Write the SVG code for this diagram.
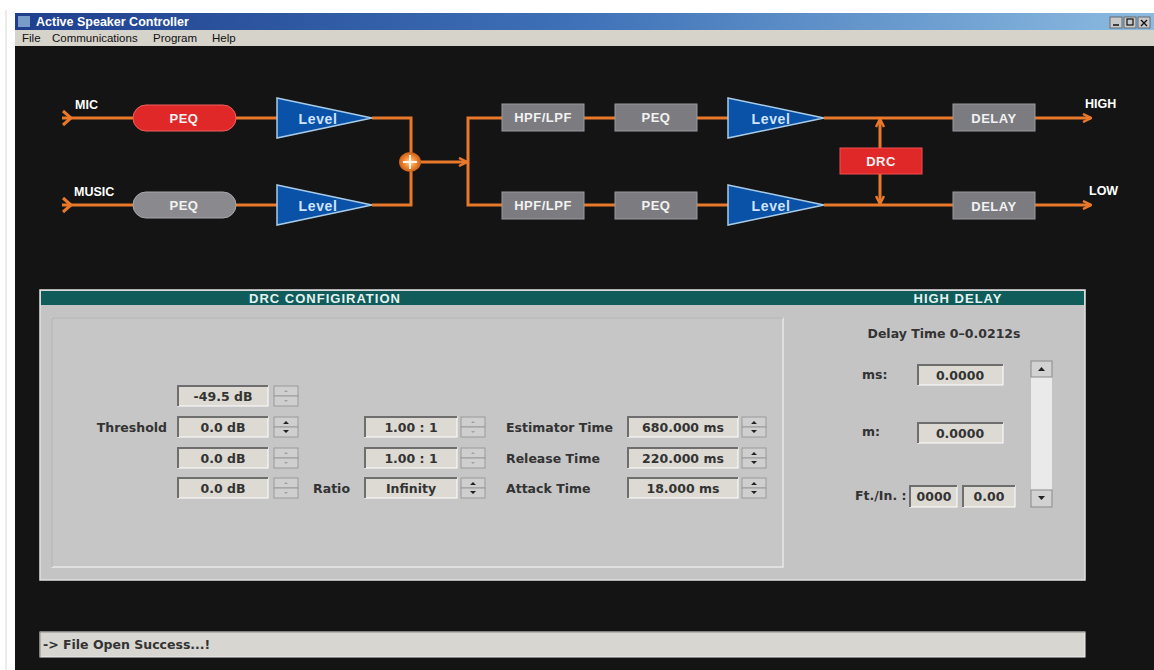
<svg xmlns="http://www.w3.org/2000/svg" width="1154" height="670" viewBox="0 0 1154 670">
<defs>
<linearGradient id="tg" x1="0" y1="0" x2="1" y2="0">
<stop offset="0" stop-color="#1f3f8e"/>
<stop offset="0.5" stop-color="#3f72b8"/>
<stop offset="1" stop-color="#8cbbe0"/>
</linearGradient>
<marker id="ah" viewBox="0 0 10 10" refX="9" refY="5" markerWidth="10" markerHeight="10" markerUnits="userSpaceOnUse" orient="auto">
<path d="M1,1 L9,5 L1,9" fill="none" stroke="#e8782a" stroke-width="2.5"/>
</marker>
<radialGradient id="sg" cx="0.5" cy="0.5" r="0.5">
<stop offset="0" stop-color="#ffd8a8"/>
<stop offset="0.6" stop-color="#f0862e"/>
<stop offset="1" stop-color="#c85e1a"/>
</radialGradient>
</defs>
<style>
.w{stroke:#e8782a;stroke-width:3;fill:none}
.lbl{font-family:"Liberation Sans",Arial,sans-serif;font-weight:bold;fill:#ffffff;font-size:12.5px}
.btxt{font-family:"Liberation Sans",Arial,sans-serif;font-weight:bold;fill:#f2f2f2;font-size:13px;text-anchor:middle;letter-spacing:0.5px}
.lv{font-family:"Liberation Sans",Arial,sans-serif;font-weight:bold;fill:#cfe4ff;font-size:14px;text-anchor:middle;letter-spacing:0.6px}
.gbox{fill:#7c7c80;stroke:#9a9a9e;stroke-width:1}
.tri{fill:#0a52a8;stroke:#a8cce8;stroke-width:1.5}
.ptxt{font-family:"DejaVu Sans",Verdana,sans-serif;font-weight:bold;fill:#333333;font-size:12.5px}
.ftxt{font-family:"DejaVu Sans",Verdana,sans-serif;font-weight:bold;fill:#333333;font-size:12.5px;text-anchor:middle}
.fld{fill:#dcdad2;stroke:#ffffff;stroke-width:1}
.fsh{fill:none;stroke:#6e6e6e;stroke-width:2}
.spb{fill:#cfcfcf;stroke:#9a9a9a;stroke-width:1}
.ttl{font-family:"Liberation Sans",Arial,sans-serif;font-weight:bold;fill:#e6f2f0;font-size:13px;text-anchor:middle;letter-spacing:1px}
.menu{font-family:"Liberation Sans",Arial,sans-serif;fill:#111;font-size:11.5px}
</style>
<rect x="0" y="0" width="1154" height="670" fill="#ffffff"/>
<line x1="6" y1="10" x2="6" y2="670" stroke="#d8d8d8" stroke-width="1"/>
<!-- window chrome -->
<g id="titlebar">
<rect x="15" y="13" width="1139" height="17" fill="url(#tg)"/>
<rect x="18" y="16" width="12" height="11" fill="#7a9cc8"/>
<text x="36" y="26" class="lbl" font-size="13">Active Speaker Controller</text>
<rect x="1110" y="17" width="12" height="11" fill="#c8c8c8" stroke="#555" stroke-width="0.8"/>
<rect x="1124" y="17" width="12" height="11" fill="#c8c8c8" stroke="#555" stroke-width="0.8"/>
<rect x="1138" y="17" width="12" height="11" fill="#c8c8c8" stroke="#555" stroke-width="0.8"/>
<line x1="1113" y1="25" x2="1119" y2="25" stroke="#111" stroke-width="1.5"/>
<rect x="1127" y="19" width="6" height="6" fill="none" stroke="#111" stroke-width="1.2"/>
<path d="M1141,20 L1147,26 M1147,20 L1141,26" stroke="#111" stroke-width="1.4"/>
</g>
<g id="menubar">
<rect x="15" y="30" width="1139" height="16" fill="#d6d3cb"/>
<text x="22" y="42" class="menu">File</text>
<text x="52" y="42" class="menu">Communications</text>
<text x="153" y="42" class="menu">Program</text>
<text x="212" y="42" class="menu">Help</text>
</g>
<rect x="15" y="46" width="1139" height="624" fill="#141414"/>

<!-- connectors -->
<g id="connectors">
<path class="w" d="M62,118 H133"/>
<path class="w" d="M63,111 L71,118 L63,125"/>
<path class="w" d="M62,205 H133"/>
<path class="w" d="M63,198 L71,205 L63,212"/>
<path class="w" d="M236,118 H277"/>
<path class="w" d="M236,205 H277"/>
<path class="w" d="M372,118 H411 V205 H372"/>
<path class="w" d="M420,162 H467" marker-end="url(#ah)"/>
<path class="w" d="M502,118 H468 V205 H502"/>
<path class="w" d="M584,118 H615"/>
<path class="w" d="M584,205 H615"/>
<path class="w" d="M697,118 H728"/>
<path class="w" d="M697,205 H728"/>
<path class="w" d="M824,118 H953"/>
<path class="w" d="M824,205 H953"/>
<path class="w" d="M1035,118 H1091" marker-end="url(#ah)"/>
<path class="w" d="M1035,205 H1091" marker-end="url(#ah)"/>
<path class="w" d="M880,148 V119" marker-end="url(#ah)"/>
<path class="w" d="M880,174 V204" marker-end="url(#ah)"/>
</g>

<g id="sum">
<ellipse cx="410" cy="162" rx="11" ry="10" fill="url(#sg)"/>
<path d="M403,162 H417 M410,155 V169" stroke="#fff4e8" stroke-width="2"/>
</g>

<text x="75" y="109" class="lbl">MIC</text>
<text x="74" y="196" class="lbl">MUSIC</text>
<text x="1085" y="108" class="lbl">HIGH</text>
<text x="1089" y="195" class="lbl">LOW</text>

<g id="peq-mic">
<rect x="133" y="105" width="103" height="26" rx="13" fill="#e02828" stroke="#f06060" stroke-width="1"/>
<text x="184" y="123" class="btxt">PEQ</text>
</g>
<g id="peq-music">
<rect x="133" y="192" width="103" height="26" rx="13" fill="#8a8a8e" stroke="#a8a8ac" stroke-width="1"/>
<text x="184" y="210" class="btxt">PEQ</text>
</g>
<g id="level-mic">
<polygon class="tri" points="277,98 372,118 277,138"/>
<text x="318" y="124" class="lv">Level</text>
</g>
<g id="level-music">
<polygon class="tri" points="277,185 372,205 277,225"/>
<text x="318" y="211" class="lv">Level</text>
</g>
<g id="hpf-high">
<rect class="gbox" x="502" y="104" width="82" height="27"/>
<text x="543" y="122" class="btxt">HPF/LPF</text>
</g>
<g id="hpf-low">
<rect class="gbox" x="502" y="192" width="82" height="27"/>
<text x="543" y="210" class="btxt">HPF/LPF</text>
</g>
<g id="peq-high">
<rect class="gbox" x="615" y="104" width="82" height="27"/>
<text x="656" y="122" class="btxt">PEQ</text>
</g>
<g id="peq-low">
<rect class="gbox" x="615" y="192" width="82" height="27"/>
<text x="656" y="210" class="btxt">PEQ</text>
</g>
<g id="level-high">
<polygon class="tri" points="728,98 824,118 728,138"/>
<text x="771" y="124" class="lv">Level</text>
</g>
<g id="level-low">
<polygon class="tri" points="728,185 824,205 728,225"/>
<text x="771" y="211" class="lv">Level</text>
</g>
<g id="drc">
<rect x="840" y="148" width="82" height="26" fill="#e02828" stroke="#f05050" stroke-width="1"/>
<text x="881" y="166" class="btxt">DRC</text>
</g>
<g id="delay-high">
<rect class="gbox" x="953" y="104" width="82" height="27"/>
<text x="994" y="123" class="btxt" letter-spacing="1.2">DELAY</text>
</g>
<g id="delay-low">
<rect class="gbox" x="953" y="192" width="82" height="27"/>
<text x="994" y="211" class="btxt" letter-spacing="1.2">DELAY</text>
</g>

<!-- configuration panel -->
<g id="panel">
<rect x="40" y="290" width="1045" height="290" fill="#c4c4c4" stroke="#e2e2e2" stroke-width="1.5"/>
<rect x="41" y="291" width="1043" height="14" fill="#0f5c5a"/>
<text x="325" y="303" class="ttl">DRC CONFIGIRATION</text>
<text x="958" y="303" class="ttl">HIGH DELAY</text>
<rect x="52" y="318" width="731" height="249" fill="#c6c6c6" stroke="#e8e8e8" stroke-width="1.5"/>
<path d="M52,567 V318 H783" fill="none" stroke="#9c9c9c" stroke-width="1"/>
</g>

<g id="drc-threshold">
<text x="167" y="432" class="ptxt" text-anchor="end">Threshold</text>
<rect class="fld" x="178" y="386" width="90" height="20"/><path class="fsh" d="M178,406 V386 H268"/><text x="223" y="401" class="ftxt">-49.5 dB</text>
<rect class="fld" x="178" y="417" width="90" height="20"/><path class="fsh" d="M178,437 V417 H268"/><text x="223" y="432" class="ftxt">0.0 dB</text>
<rect class="fld" x="178" y="448" width="90" height="20"/><path class="fsh" d="M178,468 V448 H268"/><text x="223" y="463" class="ftxt">0.0 dB</text>
<rect class="fld" x="178" y="478" width="90" height="20"/><path class="fsh" d="M178,498 V478 H268"/><text x="223" y="493" class="ftxt">0.0 dB</text>
</g>
<g id="drc-threshold-spin">
<rect class="spb" x="274" y="386" width="24" height="10"/><rect class="spb" x="274" y="396" width="24" height="10"/>
<path d="M284,392 h4 l-2,-2z M284,400 h4 l-2,2z" fill="#a0a0a0"/>
<rect class="spb" x="274" y="417" width="24" height="10"/><rect class="spb" x="274" y="427" width="24" height="10"/>
<path d="M283,424 h6 l-3,-3z M283,430 h6 l-3,3z" fill="#222"/>
<rect class="spb" x="274" y="448" width="24" height="10"/><rect class="spb" x="274" y="458" width="24" height="10"/>
<path d="M284,454 h4 l-2,-2z M284,462 h4 l-2,2z" fill="#a0a0a0"/>
<rect class="spb" x="274" y="478" width="24" height="10"/><rect class="spb" x="274" y="488" width="24" height="10"/>
<path d="M284,484 h4 l-2,-2z M284,492 h4 l-2,2z" fill="#a0a0a0"/>
</g>
<g id="drc-ratio">
<text x="350" y="493" class="ptxt" text-anchor="end">Ratio</text>
<rect class="fld" x="365" y="417" width="92" height="20"/><path class="fsh" d="M365,437 V417 H457"/><text x="411" y="432" class="ftxt">1.00 : 1</text>
<rect class="fld" x="365" y="448" width="92" height="20"/><path class="fsh" d="M365,468 V448 H457"/><text x="411" y="463" class="ftxt">1.00 : 1</text>
<rect class="fld" x="365" y="478" width="92" height="20"/><path class="fsh" d="M365,498 V478 H457"/><text x="411" y="493" class="ftxt">Infinity</text>
<rect class="spb" x="461" y="417" width="24" height="10"/><rect class="spb" x="461" y="427" width="24" height="10"/>
<path d="M471,423 h4 l-2,-2z M471,431 h4 l-2,2z" fill="#a0a0a0"/>
<rect class="spb" x="461" y="448" width="24" height="10"/><rect class="spb" x="461" y="458" width="24" height="10"/>
<path d="M471,454 h4 l-2,-2z M471,462 h4 l-2,2z" fill="#a0a0a0"/>
<rect class="spb" x="461" y="478" width="24" height="10"/><rect class="spb" x="461" y="488" width="24" height="10"/>
<path d="M470,485 h6 l-3,-3z M470,491 h6 l-3,3z" fill="#222"/>
</g>
<g id="drc-times">
<text x="506" y="432" class="ptxt">Estimator Time</text>
<text x="506" y="463" class="ptxt">Release Time</text>
<text x="506" y="493" class="ptxt">Attack Time</text>
<rect class="fld" x="628" y="417" width="110" height="20"/><path class="fsh" d="M628,437 V417 H738"/><text x="683" y="432" class="ftxt">680.000 ms</text>
<rect class="fld" x="628" y="448" width="110" height="20"/><path class="fsh" d="M628,468 V448 H738"/><text x="683" y="463" class="ftxt">220.000 ms</text>
<rect class="fld" x="628" y="478" width="110" height="20"/><path class="fsh" d="M628,498 V478 H738"/><text x="683" y="493" class="ftxt">18.000 ms</text>
<rect class="spb" x="742" y="417" width="24" height="10"/><rect class="spb" x="742" y="427" width="24" height="10"/>
<path d="M751,424 h6 l-3,-3z M751,430 h6 l-3,3z" fill="#222"/>
<rect class="spb" x="742" y="448" width="24" height="10"/><rect class="spb" x="742" y="458" width="24" height="10"/>
<path d="M751,455 h6 l-3,-3z M751,461 h6 l-3,3z" fill="#222"/>
<rect class="spb" x="742" y="478" width="24" height="10"/><rect class="spb" x="742" y="488" width="24" height="10"/>
<path d="M751,485 h6 l-3,-3z M751,491 h6 l-3,3z" fill="#222"/>
</g>

<g id="high-delay">
<text x="944" y="338" class="ptxt" text-anchor="middle">Delay Time  0–0.0212s</text>
<text x="862" y="379" class="ptxt">ms:</text>
<rect class="fld" x="918" y="365" width="85" height="20"/><path class="fsh" d="M918,385 V365 H1003"/><text x="960" y="380" class="ftxt">0.0000</text>
<text x="862" y="436" class="ptxt">m:</text>
<rect class="fld" x="918" y="423" width="85" height="20"/><path class="fsh" d="M918,443 V423 H1003"/><text x="960" y="438" class="ftxt">0.0000</text>
<text x="855" y="500" class="ptxt">Ft./In. :</text>
<rect class="fld" x="910" y="486" width="47" height="21"/><path class="fsh" d="M910,507 V486 H957"/><text x="934" y="501" class="ftxt">0000</text>
<rect class="fld" x="963" y="486" width="52" height="21"/><path class="fsh" d="M963,507 V486 H1015"/><text x="989" y="501" class="ftxt">0.00</text>
<rect x="1031" y="361" width="21" height="146" fill="#eaeaea"/>
<rect x="1031" y="361" width="21" height="16" fill="#d2d2d2" stroke="#8a8a8a" stroke-width="1"/>
<path d="M1038,371 h7 l-3.5,-4z" fill="#222"/>
<rect x="1031" y="490" width="21" height="17" fill="#d2d2d2" stroke="#8a8a8a" stroke-width="1"/>
<path d="M1038,496 h7 l-3.5,4z" fill="#222"/>
</g>

<g id="status">
<rect x="40" y="632" width="1045" height="25" fill="#d8d6d0" stroke="#f0f0f0" stroke-width="1"/>
<path d="M40,657 V632 H1085" fill="none" stroke="#808080" stroke-width="1"/>
<text x="43" y="649" class="ptxt" font-size="12.5">-&gt; File Open Success...!</text>
</g>
</svg>
